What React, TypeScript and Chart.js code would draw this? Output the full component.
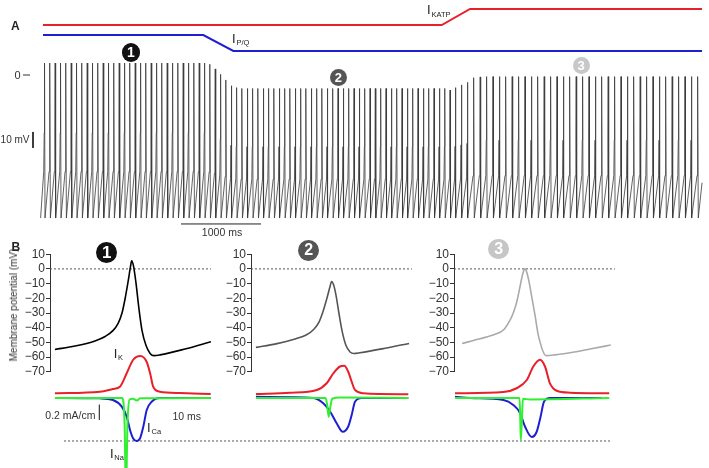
import React, { useEffect, useRef } from "react";
import { Chart, registerables } from "chart.js";

Chart.register(...registerables);

const FONT = "'Liberation Sans', Arial, Helvetica, sans-serif";
const RED = "#e8202a";
const BLUE = "#1f1fd2";
const GREEN = "#2ff02f";

// ---------------- Panel A: spike train (ms, mV) ----------------
const spikeTimesA = [
  19, 86, 152, 219, 286, 353, 419, 486, 553, 619,
  686, 753, 819, 886, 953, 1020, 1086, 1153, 1220, 1286,
  1353, 1420, 1486, 1553, 1620, 1687, 1753, 1820, 1887, 1953,
  2020, 2087, 2153, 2220, 2287, 2354, 2420, 2487, 2554, 2620,
  2687, 2754, 2820, 2887, 2954, 3021, 3087, 3154, 3221, 3287,
  3354, 3421, 3487, 3554, 3621, 3688, 3754, 3821, 3888, 3954,
  4021, 4088, 4154, 4221, 4288, 4355, 4421, 4488, 4555, 4621,
  4688, 4755, 4821, 4888, 4955, 5022, 5088, 5155,
  5230, 5305, 5385, 5465, 5545, 5625, 5705, 5785, 5865, 5945,
  6025, 6105, 6185, 6265, 6345, 6425, 6505, 6585, 6665, 6745,
  6825, 6905, 6985, 7065, 7145, 7225, 7305, 7385, 7465, 7545,
  7625, 7705, 7785, 7865, 7945, 8025, 8105, 8185,
];
const spikePeaksA = [
  7.5, 7.5, 7.5, 7.5, 7.5, 7.5, 7.5, 7.5, 7.5, 7.5,
  7.5, 7.5, 7.5, 7.5, 7.5, 7.5, 7.5, 7.5, 7.5, 7.5,
  7.5, 7.5, 7.5, 7.5, 7.5, 7.5, 7.5, 7.5, 7.5, 7.5,
  7.5, 6.7, 3.8, 0.4, -3.1, -6.7, -7.9, -8.4, -8.4, -8.4,
  -8.4, -8.4, -8.4, -8.4, -8.4, -8.4, -8.4, -8.4, -8.4, -8.4,
  -8.4, -8.4, -8.4, -8.4, -8.4, -8.4, -8.4, -8.4, -8.4, -8.4,
  -8.4, -8.4, -8.4, -8.4, -8.4, -8.4, -8.4, -8.4, -8.4, -8.4,
  -8.4, -8.4, -8.4, -8.4, -8.4, -8.4, -9.4, -7.9,
  -6.2, -4.6, -1.7, -1.2, -1, -1, -1, -1, -1, -1,
  -1, -1, -1, -1, -1, -1, -1, -1, -1, -1,
  -1, -1, -1, -1, -1, -1, -1, -1, -1, -1,
  -1, -1, -1, -1, -1, -1, -1, -1,
];
const troughA = -89.4;
const traceEndA = 8238;

// conductance protocol (relative level)
const katpTimes = [0, 4984, 5338, 8238];
const katpLevel = [0, 0, 1, 1];
const pqTimes = [0, 2004, 2379, 8238];
const pqLevel = [1, 1, 0, 0];

// scale marks of panel A
const zeroTickTimes = [-250, -162];
const mvBarTime = -125;
const mvBarValues = [-35.6, -45.6]; // 10 mV
const msBarTimes = [1725, 2725]; // 1000 ms
const msBarLevel = -93.1;

// ---------------- Panel B: single spikes (ms, mV) and currents (ms, mA/cm2) ----------------
const v1 = [[1.9, -54.8], [9.6, -52.5], [17.3, -49], [21.2, -46], [24.2, -42], [26.2, -37], [27.7, -30], [28.8, -21], [30, -9], [31, 2], [31.4, 5.5], [32.1, 2], [33.1, -10], [34.2, -27], [35.4, -42], [36.9, -52], [38.5, -57.5], [40, -59], [42.3, -58.5], [51.9, -54.5], [61.9, -49.5]];
const v2 = [[1.9, -53.4], [9.6, -51], [17.3, -47.5], [21.2, -45], [24.2, -41], [26.2, -36], [27.7, -29], [29.2, -20], [30.4, -12], [31, -8.6], [31.7, -10.5], [32.7, -18], [33.8, -30], [35, -42], [36.5, -52], [38.1, -56.5], [39.6, -57.5], [41.9, -57], [51.5, -54], [60.8, -50.7]];
const v3 = [[3.1, -50.7], [10, -47.5], [15.8, -44.5], [19, -41.6], [21.5, -35], [22.8, -30], [24.2, -22], [25.4, -12], [26.5, -3], [27.3, 0], [28.1, -3], [29, -10], [29.9, -19], [31.2, -32], [32.3, -44], [33.3, -51], [34.2, -56], [35.4, -59], [38.8, -58.5], [44.6, -57], [52.3, -54.5], [60.3, -51.8]];

const ik1 = [[1.9, 0.063], [19.2, 0.084], [24.2, 0.12], [26.9, 0.15], [29.5, 0.33], [32, 0.51], [34.8, 0.56], [37.2, 0.48], [38.5, 0.33], [39.7, 0.15], [42.3, 0.084], [50, 0.067], [61.8, 0.053]];
const ica1 = [[1.9, 0], [19.2, -0.005], [24.2, -0.027], [27.6, -0.116], [29.5, -0.25], [30.8, -0.43], [32, -0.54], [33.3, -0.573], [34.6, -0.54], [35.9, -0.38], [37.2, -0.16], [39.1, -0.05], [42.3, 0], [61.8, 0]];
const ina1 = [[1.9, 0], [27.7, 0], [28.7, -0.35], [29.2, -1.3], [29.8, -0.35], [30.6, -0.02], [31.9, -0.01], [33.5, -0.035], [34.6, -0.005], [61.8, 0]];

const ik2 = [[1.9, 0.053], [15, 0.07], [25.3, 0.107], [29.1, 0.196], [31.7, 0.33], [34.2, 0.42], [35.9, 0.43], [37.4, 0.35], [38.7, 0.22], [40, 0.107], [43.2, 0.063], [60.5, 0.049]];
const ica2 = [[1.9, 0.017], [15, 0.01], [24, 0], [27.8, -0.07], [30.4, -0.18], [33, -0.34], [35.3, -0.45], [37.4, -0.38], [38.7, -0.23], [40, -0.05], [42.6, 0], [60.5, 0]];
const ina2 = [[1.9, 0], [28.7, 0], [29.4, -0.12], [29.9, -0.25], [30.6, -0.1], [31.2, -0.01], [34.2, 0.005], [60.5, 0]];

const ik3 = [[0.4, 0.063], [19, 0.08], [24.1, 0.13], [28, 0.24], [30.5, 0.42], [33.1, 0.51], [35, 0.42], [36.9, 0.196], [39.5, 0.097], [44.6, 0.071], [59.7, 0.063]];
const ica3 = [[0.4, 0.017], [6.2, 0], [19, -0.027], [22.8, -0.093], [25.4, -0.2], [27.3, -0.38], [29.9, -0.52], [31.8, -0.45], [33.3, -0.25], [34.6, -0.05], [36.9, 0], [56.8, 0]];
const ina3 = [[0.4, 0], [25.2, 0], [25.5, -0.3], [25.7, -0.56], [26.1, -0.3], [26.5, -0.01], [29.2, -0.02], [59.7, 0]];

const vZeroLine = [[0, 0], [61.9, 0]];
const iRefLine = [[5.4, -0.573], [216.2, -0.573]];
const iBarTime = 19;
const iBarValues = [-0.09, -0.29]; // 0.2 mA/cm2

// ---------------- helpers ----------------
const pts = (arr: number[][]) => arr.map(([x, y]) => ({ x, y }));
const zip = (xs: number[], ys: number[]) => xs.map((x, i) => ({ x, y: ys[i] }));

function buildTraceA() {
  const out = [{ x: -30, y: troughA }];
  spikeTimesA.forEach((t, i) => {
    const p = spikePeaksA[i];
    const r = p - troughA;
    out.push({ x: t - 10, y: troughA + 0.3 * r });
    out.push({ x: t - 4, y: troughA + 0.55 * r });
    out.push({ x: t, y: p });
    out.push({ x: t + 6, y: troughA });
  });
  const last = spikePeaksA[spikePeaksA.length - 1];
  out.push({ x: traceEndA, y: troughA + 0.25 * (last - troughA) });
  return out;
}

const line = (data: any[], color: string, width: number, extra: any = {}) => ({
  data,
  borderColor: color,
  borderWidth: width,
  pointRadius: 0,
  fill: false,
  tension: 0,
  ...extra,
});

const baseOptions = (scales: any) => ({
  responsive: false,
  maintainAspectRatio: false,
  animation: false,
  events: [],
  layout: { padding: 0 },
  plugins: { legend: { display: false }, tooltip: { enabled: false }, title: { display: false } },
  scales,
});

function ChartCanvas({ left, top, width, height, make }: any) {
  const ref = useRef<HTMLCanvasElement>(null);
  useEffect(() => {
    const chart = new Chart(ref.current as HTMLCanvasElement, make());
    return () => chart.destroy();
  }, []);
  return (
    <canvas
      ref={ref}
      width={width}
      height={height}
      style={{ position: "absolute", left, top, width, height }}
    />
  );
}

// ---------------- chart configs ----------------
const makePanelA = () => ({
  type: "line",
  data: {
    datasets: [
      line(buildTraceA(), "#3a3a3a", 0.8, { yAxisID: "yV" }),
      line(zip(katpTimes, katpLevel), RED, 2, { yAxisID: "yK" }),
      line(zip(pqTimes, pqLevel), BLUE, 2, { yAxisID: "yPQ" }),
      line(zeroTickTimes.map((x) => ({ x, y: 0 })), "#333", 1, { yAxisID: "yV" }),
      line(mvBarValues.map((y) => ({ x: mvBarTime, y })), "#222", 1, { yAxisID: "yV" }),
      line(msBarTimes.map((x) => ({ x, y: msBarLevel })), "#222", 1, { yAxisID: "yV" }),
    ],
  },
  options: baseOptions({
    x: { type: "linear", min: -537.5, max: 8325, display: false },
    yV: { type: "linear", min: -100, max: 46.875, display: false },
    yK: { type: "linear", min: -13.125, max: 1.5625, display: false },
    yPQ: { type: "linear", min: -11.5, max: 3.1875, display: false },
  }),
});

const fmtTick = (v: any) => (Number(v) < 0 ? "\u2212" + Math.abs(Number(v)) : String(v));

const makeVolt = (trace: number[][], color: string) => () => ({
  type: "line",
  data: {
    datasets: [
      line(pts(trace), color, 1.6, { cubicInterpolationMode: "monotone" }),
      line(pts(vZeroLine), "#555", 1, { borderDash: [2, 2] }),
    ],
  },
  options: {
    ...baseOptions({
      x: { type: "linear", min: 0, max: 61.92, display: false },
      y: {
        type: "linear",
        position: "left",
        min: -70,
        max: 10,
        afterFit: (s: any) => {
          s.width = 40;
        },
        border: { display: true, color: "#333", width: 1 },
        grid: { display: true, drawOnChartArea: false, drawTicks: true, tickLength: 4, color: "#333", lineWidth: 1 },
        ticks: {
          stepSize: 10,
          autoSkip: false,
          padding: 1,
          color: "#333",
          font: { family: FONT, size: 12 },
          callback: fmtTick,
        },
      },
    }),
    layout: { padding: { top: 8, bottom: 8, left: 0, right: 0 } },
  },
});

const makeCurrents = (ik: number[][], ica: number[][], ina: number[][], xMax: number, extras: any[] = []) => () => ({
  type: "line",
  data: {
    datasets: [
      line(pts(ina), GREEN, 2, { cubicInterpolationMode: "monotone" }),
      line(pts(ica), BLUE, 2, { cubicInterpolationMode: "monotone" }),
      line(pts(ik), RED, 2, { cubicInterpolationMode: "monotone" }),
      ...extras,
    ],
  },
  options: baseOptions({
    x: { type: "linear", min: 0, max: xMax, display: false },
    y: { type: "linear", min: -0.9333, max: 0.7733, display: false },
  }),
});

// ---------------- text helpers ----------------
function Txt({ x, y, size, children, bold, color = "#222", align = "left" }: any) {
  const tx = align === "center" ? "translateX(-50%)" : align === "right" ? "translateX(-100%)" : "none";
  return (
    <div
      style={{
        position: "absolute",
        left: x,
        top: y - 0.13 * size,
        fontSize: size,
        lineHeight: `${size}px`,
        fontWeight: bold ? 700 : 400,
        color,
        whiteSpace: "nowrap",
        transform: tx,
        fontFamily: FONT,
      }}
    >
      {children}
    </div>
  );
}

function CurLabel({ x, y, sub, subDx = 4.5, subDy = 6 }: any) {
  return (
    <>
      <Txt x={x} y={y} size={13}>I</Txt>
      <Txt x={x + subDx} y={y + subDy} size={7.5}>{sub}</Txt>
    </>
  );
}

function Badge({ cx, cy, r, bg, n, size }: any) {
  return (
    <div
      style={{
        position: "absolute",
        left: cx - r,
        top: cy - r,
        width: 2 * r,
        height: 2 * r,
        borderRadius: "50%",
        background: bg,
        color: "#fff",
        display: "flex",
        alignItems: "center",
        justifyContent: "center",
        fontFamily: FONT,
        fontWeight: 700,
        fontSize: size,
        lineHeight: 1,
      }}
    >
      {n}
    </div>
  );
}

export default function App() {
  return (
    <div
      style={{
        position: "absolute",
        left: 0,
        top: 0,
        width: 709,
        height: 468,
        overflow: "hidden",
        background: "#fff",
        fontFamily: FONT,
      }}
    >
      {/* Panel A */}
      <ChartCanvas left={0} top={0} width={709} height={235} make={makePanelA} />

      {/* Panel B voltage */}
      <ChartCanvas left={10} top={246} width={201} height={134} make={makeVolt(v1, "#000")} />
      <ChartCanvas left={211} top={246} width={201} height={134} make={makeVolt(v2, "#555")} />
      <ChartCanvas left={414} top={246} width={201} height={134} make={makeVolt(v3, "#aaa")} />

      {/* Panel B currents */}
      <ChartCanvas
        left={50}
        top={340}
        width={659}
        height={128}
        make={makeCurrents(ik1, ica1, ina1, 659 / 2.6, [
          line(iBarValues.map((y) => ({ x: iBarTime, y })), "#444", 1),
          line(pts(iRefLine), "#555", 1, { borderDash: [2, 2] }),
        ])}
      />
      <ChartCanvas left={251} top={340} width={161} height={128} make={makeCurrents(ik2, ica2, ina2, 161 / 2.6)} />
      <ChartCanvas left={454} top={340} width={161} height={128} make={makeCurrents(ik3, ica3, ina3, 161 / 2.6)} />

      {/* Panel A text */}
      <Txt x={11} y={22} size={12} bold>A</Txt>
      <CurLabel x={427} y={5} sub="KATP" subDx={4.5} subDy={6.5} />
      <CurLabel x={232} y={33.5} sub="P/Q" subDx={4.5} subDy={6.5} />
      <Txt x={14.5} y={71.5} size={11} color="#333">0</Txt>
      <Txt x={29.5} y={136.5} size={10} color="#333" align="right">10 mV</Txt>
      <Txt x={222} y={228} size={10.5} color="#333" align="center">1000 ms</Txt>
      <Badge cx={130.8} cy={52.5} r={9.2} bg="#111" n="1" size={14} />
      <Badge cx={338.3} cy={77.7} r={8.5} bg="#555" n="2" size={13} />
      <Badge cx={581} cy={65.7} r={8.5} bg="#c8c8c8" n="3" size={13} />

      {/* Panel B text */}
      <Txt x={11.5} y={243} size={12} bold>B</Txt>
      <Badge cx={106.7} cy={252.7} r={10.7} bg="#111" n="1" size={17} />
      <Badge cx={308.8} cy={250.3} r={10.4} bg="#555" n="2" size={16} />
      <Badge cx={498.7} cy={249.2} r={10.3} bg="#c6c6c6" n="3" size={16} />
      <div
        style={{
          position: "absolute",
          left: 13.5,
          top: 305,
          transform: "translate(-50%, -50%) rotate(-90deg)",
          fontSize: 10,
          lineHeight: "10px",
          color: "#333",
          whiteSpace: "nowrap",
          fontFamily: FONT,
        }}
      >
        Membrane potential (mV)
      </div>
      <CurLabel x={113.8} y={349} sub="K" subDx={4.3} subDy={5.5} />
      <Txt x={95.5} y={411.5} size={10.5} color="#333" align="right">0.2 mA/cm</Txt>
      <Txt x={172.5} y={412} size={10.5} color="#333">10 ms</Txt>
      <CurLabel x={147} y={422.5} sub="Ca" subDx={4.5} subDy={6} />
      <CurLabel x={110} y={448.5} sub="Na" subDx={4.3} subDy={6.5} />
    </div>
  );
}
